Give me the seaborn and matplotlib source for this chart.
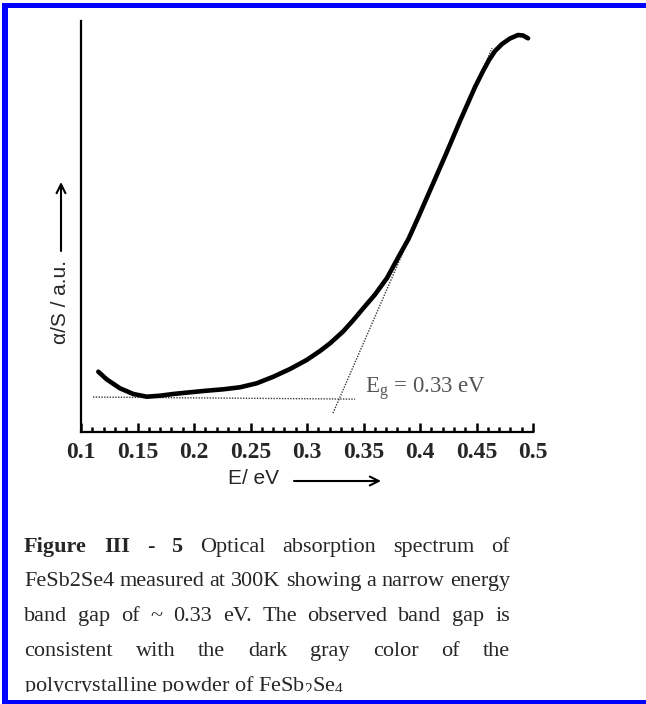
import matplotlib
matplotlib.use("Agg")
import numpy as np
import pandas as pd
import seaborn as sns
import matplotlib.pyplot as plt
from matplotlib.patches import Rectangle
from matplotlib.transforms import IdentityTransform
from matplotlib.ticker import MultipleLocator

# ---------------- data ----------------
energy = [0.1153, 0.1227, 0.1345, 0.1463, 0.1581, 0.1699, 0.1817, 0.1965,
          0.2112, 0.2259, 0.2407, 0.2555, 0.2702, 0.2850, 0.2997, 0.3115,
          0.3204, 0.3319, 0.3407, 0.3496, 0.3602, 0.3708, 0.3814, 0.3898,
          0.3982, 0.4106, 0.4230, 0.4354, 0.4487, 0.4558, 0.4611, 0.4664,
          0.4726, 0.4796, 0.4867, 0.4912, 0.4956]
absorption = [0.1467, 0.1282, 0.1063, 0.0925, 0.0859, 0.0883, 0.0925, 0.0966,
              0.1005, 0.1039, 0.1088, 0.1185, 0.1345, 0.1533, 0.1752, 0.1971,
              0.2158, 0.2445, 0.2713, 0.3005, 0.3345, 0.3747, 0.4282, 0.4696,
              0.5207, 0.5985, 0.6764, 0.7567, 0.8394, 0.8783, 0.9051, 0.9270,
              0.9440, 0.9574, 0.9659, 0.9647, 0.9579]
tangent_energy = [0.323, 0.4637]
tangent_absorption = [0.046, 0.934]
baseline_energy = [0.1106, 0.3425]
baseline_absorption = [0.085, 0.080]

x_ticks = [0.1, 0.15, 0.2, 0.25, 0.3, 0.35, 0.4, 0.45, 0.5]
x_tick_labels = ["0.1", "0.15", "0.2", "0.25", "0.3", "0.35", "0.4", "0.45", "0.5"]
x_label = "E/ eV"
y_label = "\u03b1/S / a.u."
band_gap_label = "E$_\\mathrm{g}$ = 0.33 eV"

caption_lines = [
    [("Figure", True), ("III", True), ("-", True), ("5", True),
     ("Optical", False), ("absorption", False), ("spectrum", False), ("of", False)],
    [(w, False) for w in "FeSb2Se4 measured at 300K showing a narrow energy".split()],
    [(w, False) for w in "band gap of ~ 0.33 eV. The observed band gap is".split()],
    [(w, False) for w in "consistent with the dark gray color of the".split()],
]
caption_last = "polycrystalline powder of FeSb$_2$Se$_4$"

# ---------------- style ----------------
sns.set_style("white")
plt.rcParams["font.family"] = ["Liberation Serif", "DejaVu Serif"]
plt.rcParams["mathtext.fontset"] = "custom"
plt.rcParams["mathtext.rm"] = "Liberation Serif"
plt.rcParams["mathtext.it"] = "Liberation Serif:italic"
plt.rcParams["mathtext.bf"] = "Liberation Serif:bold"

W, H = 646, 704
fig = plt.figure(figsize=(W / 100, H / 100), dpi=100)
fig.patch.set_facecolor("white")


def fx(x):
    return x / W


def fy(y):
    return 1 - y / H


ax = fig.add_axes([fx(81), fy(432), (533 - 81) / W, (432 - 21) / H])
ax.set_facecolor("white")

df = pd.DataFrame({"E": energy, "A": absorption})
sns.lineplot(data=df, x="E", y="A", ax=ax, color="black", lw=3.3, sort=False,
             solid_capstyle="round", solid_joinstyle="round", zorder=3)
dfl = pd.DataFrame({"E": tangent_energy, "A": tangent_absorption})
sns.lineplot(data=dfl, x="E", y="A", ax=ax, color="#3a3a3a", lw=1.0,
             linestyle=(0, (1, 1)), zorder=2)
dfb = pd.DataFrame({"E": baseline_energy, "A": baseline_absorption})
sns.lineplot(data=dfb, x="E", y="A", ax=ax, color="#3a3a3a", lw=1.0,
             linestyle=(0, (1, 1)), zorder=2)

ax.set_xlim(0.1, 0.5)
ax.set_ylim(0, 1)
ax.set_xticks(x_ticks)
ax.set_xticklabels(x_tick_labels, fontsize=17, fontweight="bold",
                   family=["Liberation Serif"])
ax.xaxis.set_minor_locator(MultipleLocator(0.01))
ax.tick_params(axis="x", which="major", direction="in", length=6.5, width=1.8,
               pad=7, color="black", bottom=True)
ax.tick_params(axis="x", which="minor", direction="in", length=3.8, width=1.8,
               color="black", bottom=True)
ax.set_yticks([])
ax.set_xlabel("")
ax.set_ylabel("")
for s in ["top", "right"]:
    ax.spines[s].set_visible(False)
for s in ["left", "bottom"]:
    ax.spines[s].set_visible(True)
    ax.spines[s].set_color("black")
    ax.spines[s].set_linewidth(1.6)

# axis labels with arrows
fig.text(fx(254), fy(478), x_label, fontsize=15, family=["Liberation Sans"],
         ha="center", va="center")
ax.annotate("", xy=(fx(381), fy(481)), xytext=(fx(294), fy(481)),
            xycoords="figure fraction", textcoords="figure fraction",
            annotation_clip=False,
            arrowprops=dict(arrowstyle="->", lw=1.5, color="black",
                            mutation_scale=16, shrinkA=0, shrinkB=0))
fig.text(fx(60), fy(302), y_label, fontsize=15, family=["Liberation Sans"],
         rotation=90, ha="center", va="center")
ax.annotate("", xy=(fx(61), fy(182)), xytext=(fx(61), fy(251)),
            xycoords="figure fraction", textcoords="figure fraction",
            annotation_clip=False,
            arrowprops=dict(arrowstyle="->", lw=1.5, color="black",
                            mutation_scale=16, shrinkA=0, shrinkB=0))

fig.text(fx(365), fy(393), band_gap_label, fontsize=16.5, color="#555555",
         family=["Liberation Serif"], ha="left", va="baseline")

# ---------------- caption (justified) ----------------
renderer = fig.canvas.get_renderer()
X0, X1 = 24, 510
baselines = [552, 586, 621, 656]
for words, yb in zip(caption_lines, baselines):
    objs = []
    for w, bold in words:
        t = fig.text(0, 0, w, transform=IdentityTransform(), fontsize=16,
                     fontweight="bold" if bold else "normal",
                     family=["Liberation Serif"], ha="left", va="baseline",
                     zorder=3)
        objs.append(t)
    widths = [t.get_window_extent(renderer).width for t in objs]
    gap = (X1 - X0 - sum(widths)) / (len(objs) - 1)
    x = X0
    for t, wd in zip(objs, widths):
        t.set_position((x, H - yb))
        x += wd + gap

fig.text(X0, H - 691, caption_last, transform=IdentityTransform(), fontsize=16,
         family=["Liberation Serif"], ha="left", va="baseline", zorder=3)

# clip bottom of caption and draw frame
fig.add_artist(Rectangle((0, 0), 1, fy(691.5), transform=fig.transFigure,
                         facecolor="white", edgecolor="none", zorder=20))
blue = "#0000ff"
fig.add_artist(Rectangle((fx(2), fy(8.3)), 1, (8.3 - 2.7) / H,
                         transform=fig.transFigure, facecolor=blue,
                         edgecolor="none", zorder=30))
fig.add_artist(Rectangle((fx(2), fy(704)), (8.3 - 2) / W, (704 - 2.7) / H,
                         transform=fig.transFigure, facecolor=blue,
                         edgecolor="none", zorder=30))
fig.add_artist(Rectangle((fx(2), 0), 1, (704 - 700) / H,
                         transform=fig.transFigure, facecolor=blue,
                         edgecolor="none", zorder=30))

fig.savefig("out.png", dpi=100, facecolor="white")
